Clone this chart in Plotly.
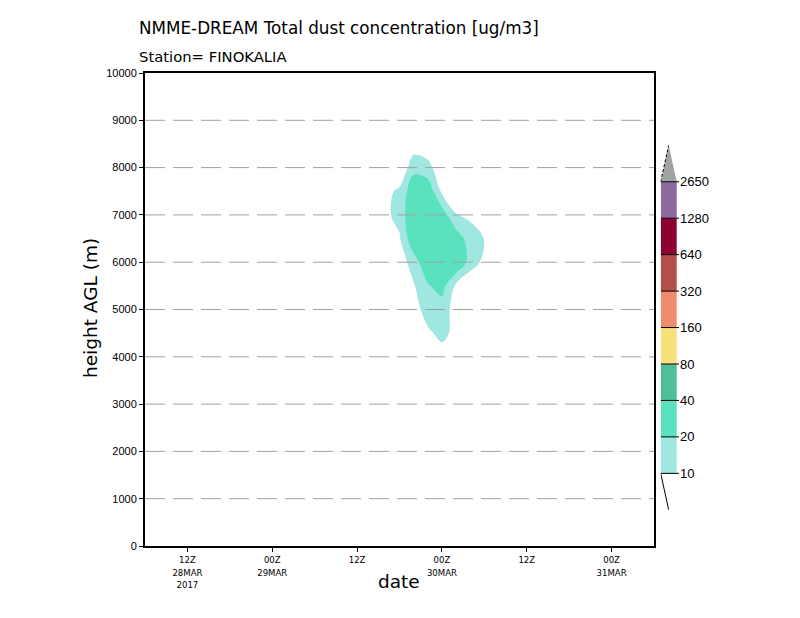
import plotly.graph_objects as go

# ---------------- data ----------------
times = ['2017-03-29 14:00', '2017-03-29 16:00', '2017-03-29 18:00', '2017-03-29 20:00',
         '2017-03-29 22:00', '2017-03-30 00:00', '2017-03-30 02:00', '2017-03-30 04:00',
         '2017-03-30 06:00', '2017-03-30 08:00']
heights = [3500, 4000, 4500, 5000, 5500, 6000, 6500, 7000, 7500, 8000, 8500, 9000]
# total dust concentration [ug/m3], rows = heights, columns = times
conc = [
    [0, 0, 0, 0, 0, 0, 0, 0, 0, 0],
    [0, 0, 0, 0, 2, 5, 2, 0, 0, 0],
    [0, 0, 0, 0, 8, 13, 7, 0, 0, 0],
    [0, 0, 0, 5, 15, 15, 6, 0, 0, 0],
    [0, 0, 0, 9, 19, 24, 8, 0, 0, 0],
    [0, 0, 4, 15, 28, 34, 30, 16, 7, 0],
    [0, 2, 9, 28, 38, 36, 26, 15, 9.8, 2],
    [0, 8, 13, 30, 35, 26, 10.5, 8, 0, 0],
    [0, 7, 12, 27, 28, 8, 0, 0, 0, 0],
    [0, 0, 0, 17, 13, 4, 0, 0, 0, 0],
    [0, 0, 0, 4, 4, 1, 0, 0, 0, 0],
    [0, 0, 0, 0, 0, 0, 0, 0, 0, 0],
]

levels = [10, 20, 40, 80, 160, 320, 640, 1280, 2650]
level_colors = ['#A0E6E1', '#5AE1BE', '#50BE9B', '#F9E079', '#F08C6E',
                '#B4504B', '#8C0032', '#8C6AA0', '#A0A5A0']

tick_vals = ['2017-03-28 12:00', '2017-03-29 00:00', '2017-03-29 12:00',
             '2017-03-30 00:00', '2017-03-30 12:00', '2017-03-31 00:00']
tick_text = ['12Z<br>28MAR<br>2017', '00Z<br>29MAR', '12Z', '00Z<br>30MAR', '12Z', '00Z<br>31MAR']
x_range = ['2017-03-28 06:00', '2017-03-31 06:00']
y_ticks = list(range(0, 10001, 1000))

title_main = 'NMME-DREAM Total dust concentration [ug/m3]'
title_station = 'Station= FINOKALIA'

# ---------------- figure ----------------
W, H = 800, 618
fig = go.Figure()

for L, col in zip(levels, level_colors):
    fig.add_trace(go.Contour(
        x=times, y=heights, z=conc, autocontour=False,
        contours=dict(start=L, end=L, size=1, coloring='fill', showlines=False),
        colorscale=[[0, 'rgba(0,0,0,0)'], [0.5, 'rgba(0,0,0,0)'], [0.5, col], [1, col]],
        showscale=False, line=dict(width=0, smoothing=1.0), hoverinfo='skip'))

# colour bar built as a small subplot
n = len(levels) - 1
cb_left, cb_bar_right, cb_right = 660.7, 676.7, 679.0
bar_w = cb_bar_right - cb_left
x2_max = 0.5 + (cb_right - cb_bar_right) / bar_w

fig.add_trace(go.Bar(x=[0] * n, y=[1] * n, base=list(range(n)), width=1,
                     marker=dict(color=level_colors[:n], line=dict(width=0)),
                     xaxis='x2', yaxis='y2', showlegend=False, hoverinfo='skip'))
fig.add_trace(go.Scatter(x=[-0.5, 0, 0.5, -0.5], y=[n, n + 1, n, n], mode='lines',
                         fill='toself', fillcolor=level_colors[n], line=dict(width=0),
                         xaxis='x2', yaxis='y2', showlegend=False, hoverinfo='skip'))
fig.add_trace(go.Scatter(x=[-0.5, 0], y=[n, n + 1], mode='lines',
                         line=dict(color='black', width=1, dash='3px,2px'),
                         xaxis='x2', yaxis='y2', showlegend=False, hoverinfo='skip'))
fig.add_trace(go.Scatter(x=[-0.5, 0], y=[0, -1], mode='lines',
                         line=dict(color='black', width=1),
                         xaxis='x2', yaxis='y2', showlegend=False, hoverinfo='skip'))

shapes = []
for k in range(n + 1):
    shapes.append(dict(type='line', xref='x2', yref='y2', x0=-0.5, x1=x2_max, y0=k, y1=k,
                       line=dict(color='black', width=1), layer='above'))
for v in y_ticks[1:-1]:
    shapes.append(dict(type='line', xref='x domain', yref='y', x0=0, x1=1, y0=v, y1=v,
                       line=dict(color='#A0A0A0', width=1, dash='20px,8px'), layer='above'))

x0p, x1p = 145 / W, 654 / W
y0p, y1p = (H - 546) / H, (H - 73) / H

fig.update_layout(
    width=W, height=H, margin=dict(l=0, r=0, t=0, b=0, autoexpand=False),
    paper_bgcolor='white', plot_bgcolor='white', showlegend=False,
    shapes=shapes,
    xaxis=dict(domain=[x0p, x1p], range=x_range, type='date', tickvals=tick_vals,
               ticktext=tick_text, ticks='outside', ticklen=4, tickcolor='black',
               showgrid=False, zeroline=False, showline=True, linewidth=2,
               linecolor='black', mirror=True, automargin=False,
               tickfont=dict(family='Liberation Sans Narrow, DejaVu Sans Condensed, sans-serif',
                             size=9.5, color='black')),
    yaxis=dict(domain=[y0p, y1p], range=[0, 10000], tickvals=y_ticks,
               ticktext=[str(v) for v in y_ticks], ticks='outside',
               ticklen=4, tickcolor='black', showgrid=False, zeroline=False,
               showline=True, linewidth=2, linecolor='black', mirror=True, automargin=False,
               tickfont=dict(family='Liberation Sans, sans-serif', size=11, color='black')),
    xaxis2=dict(domain=[cb_left / W, cb_right / W], range=[-0.5, x2_max], anchor='y2',
                visible=False, fixedrange=True, automargin=False),
    yaxis2=dict(domain=[(H - 509.8) / H, (H - 145.3) / H], range=[-1, n + 1], anchor='x2',
                side='right', tickvals=list(range(n + 1)), ticktext=[str(l) for l in levels],
                ticks='', showgrid=False, automargin=False,
                zeroline=False, showline=False,
                tickfont=dict(family='Liberation Sans, sans-serif', size=13, color='black')),
    annotations=[
        dict(text=title_main, xref='paper', yref='paper', x=137 / W, y=(H - 28) / H,
             xanchor='left', yanchor='middle', showarrow=False,
             font=dict(family='DejaVu Sans, sans-serif', size=16.8, color='black')),
        dict(text=title_station, xref='paper', yref='paper', x=137 / W, y=(H - 57) / H,
             xanchor='left', yanchor='middle', showarrow=False,
             font=dict(family='DejaVu Sans, sans-serif', size=14.8, color='black')),
        dict(text='height AGL (m)', xref='paper', yref='paper', x=90 / W, y=(H - 308) / H,
             xanchor='center', yanchor='middle', textangle=-90, showarrow=False,
             font=dict(family='DejaVu Sans, sans-serif', size=18.5, color='black')),
        dict(text='date', xref='paper', yref='paper', x=399 / W, y=(H - 581) / H,
             xanchor='center', yanchor='middle', showarrow=False,
             font=dict(family='DejaVu Sans, sans-serif', size=18.5, color='black')),
    ],
)

fig.write_html('out.html')
